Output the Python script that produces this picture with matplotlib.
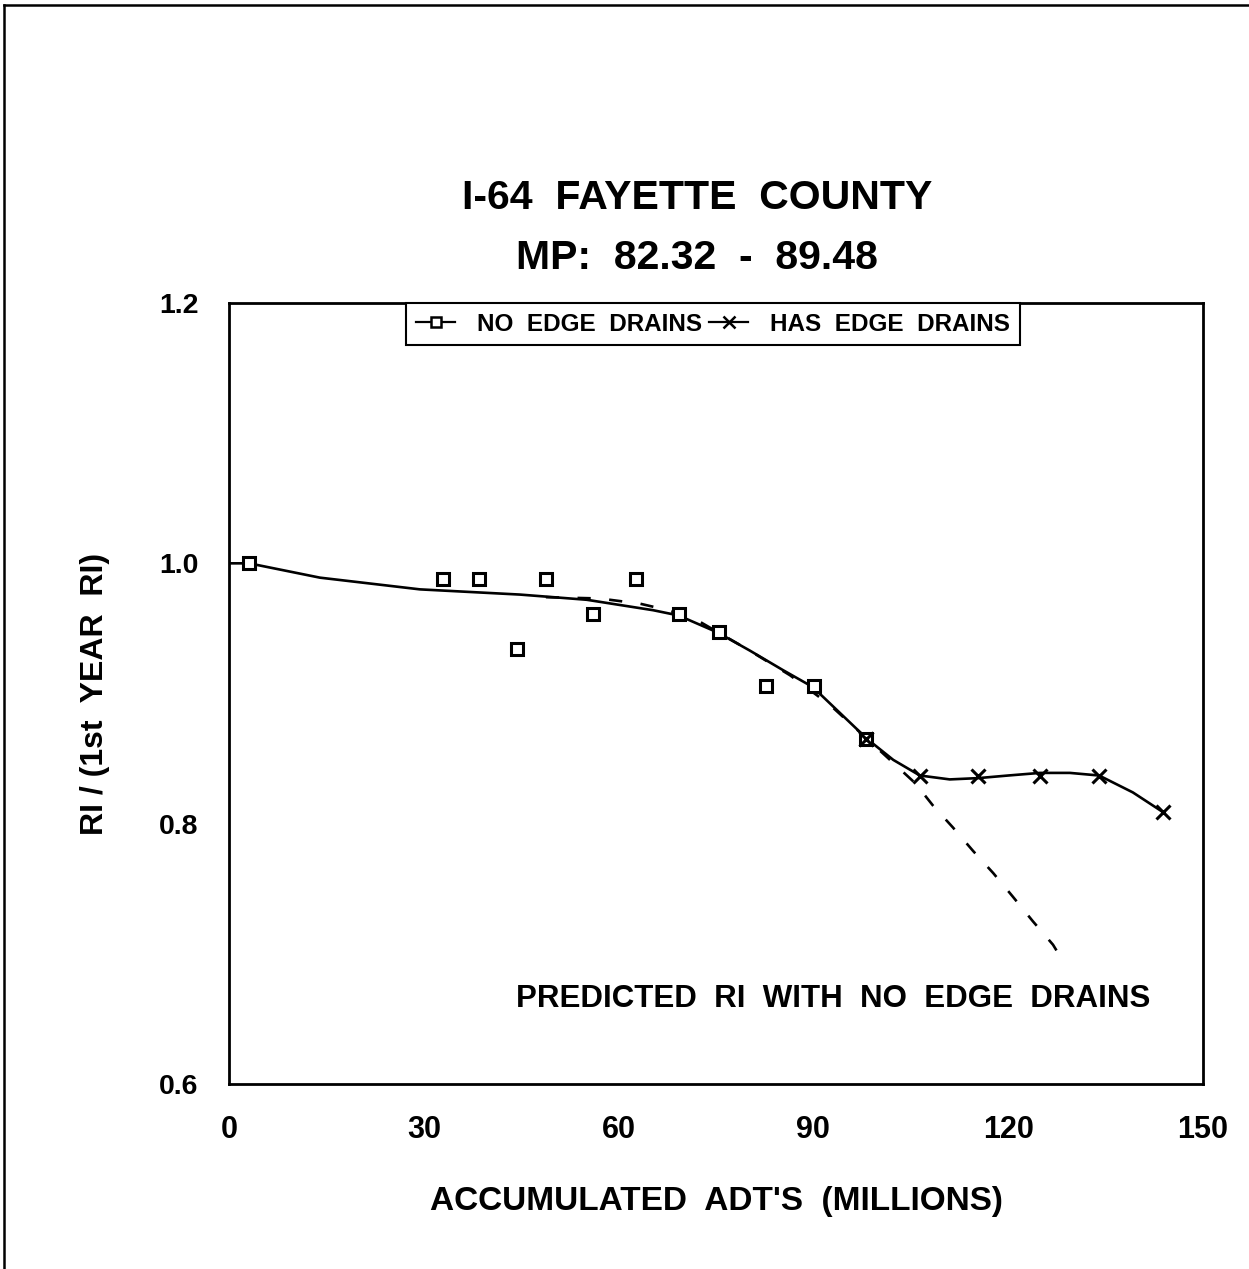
import matplotlib
matplotlib.use("Agg")
import matplotlib.pyplot as plt
from matplotlib.lines import Line2D

# ---- data ----
no_drain_x = [3.1, 33.0, 38.5, 44.4, 48.8, 56.1, 62.7, 69.3, 75.5, 82.7, 90.1, 98.1]
no_drain_y = [1.000, 0.988, 0.988, 0.934, 0.988, 0.961, 0.988, 0.961, 0.947, 0.906, 0.906, 0.865]

has_drain_x = [98.1, 106.4, 115.3, 124.9, 134.0, 143.8]
has_drain_y = [0.865, 0.837, 0.837, 0.837, 0.837, 0.809]

fit_x = [0.0, 3.1, 14.0, 29.4, 44.8, 55.1, 65.3, 69.2, 75.2, 80.2, 85.3, 89.9,
         94.1, 98.3, 102.3, 106.4, 111.0, 115.4, 120.0, 124.9, 129.5, 134.0, 139.2, 143.8]
fit_y = [1.000, 1.000, 0.989, 0.980, 0.976, 0.972, 0.964, 0.960, 0.947, 0.933, 0.918, 0.905,
         0.885, 0.865, 0.849, 0.837, 0.834, 0.835, 0.837, 0.839, 0.839, 0.837, 0.824, 0.809]

pred_x = [48.8, 57.1, 63.3, 67.6, 72.2, 79.5, 86.4, 92.6, 98.3, 101.8, 105.7, 108.4,
          111.5, 114.6, 117.7, 120.7, 123.8, 126.9, 128.0]
pred_y = [0.974, 0.973, 0.969, 0.964, 0.956, 0.935, 0.914, 0.891, 0.865, 0.849, 0.831, 0.814,
          0.797, 0.779, 0.762, 0.744, 0.725, 0.707, 0.698]

x_ticks = [0, 30, 60, 90, 120, 150]
y_ticks = [0.6, 0.8, 1.0, 1.2]

title1 = "I-64  FAYETTE  COUNTY"
title2 = "MP:  82.32  -  89.48"
xlabel = "ACCUMULATED  ADT'S  (MILLIONS)"
ylabel = "RI / (1st  YEAR  RI)"
series_labels = ["NO  EDGE  DRAINS", "HAS  EDGE  DRAINS"]
annotation = "PREDICTED  RI  WITH  NO  EDGE  DRAINS"

plt.rcParams['font.family'] = ['Liberation Sans', 'DejaVu Sans']
plt.rcParams['font.weight'] = 'bold'

fig = plt.figure(figsize=(12.49, 12.69), dpi=100)
ax = fig.add_axes([229/1249, 1-1084/1269, (1203-229)/1249, (1084-303)/1269])

ax.plot(fit_x, fit_y, color='black', lw=1.9, zorder=2)
ax.plot(pred_x, pred_y, color='black', lw=1.9, linestyle=(0, (5, 7)), zorder=2)
ax.plot(no_drain_x, no_drain_y, linestyle='none', marker='s', markersize=8.5,
        markerfacecolor='white', markeredgecolor='black', markeredgewidth=2.2, zorder=3)
ax.plot(has_drain_x, has_drain_y, linestyle='none', marker='x', markersize=10,
        color='black', markeredgewidth=2.2, zorder=3)

h1 = Line2D([], [], color='black', lw=1.6, marker='s', markersize=7,
            markerfacecolor='white', markeredgecolor='black', markeredgewidth=1.8)
h2 = Line2D([], [], color='black', lw=1.6, marker='x', markersize=8,
            markeredgewidth=1.8)
leg = ax.legend([h1, h2], series_labels, ncol=2, loc='upper center',
                bbox_to_anchor=(0.497, 1.0), frameon=True, fancybox=False,
                edgecolor='black', framealpha=1, borderaxespad=0,
                handlelength=1.6, columnspacing=0.3, handletextpad=0.9,
                borderpad=0.4, prop={'weight': 'bold', 'size': 17.5})
leg.get_frame().set_linewidth(1.5)

ax.text(93.0, 0.665, annotation, fontsize=22.5, fontweight='bold',
        ha='center', va='center')

ax.set_xlim(0, 150)
ax.set_ylim(0.6, 1.2)
ax.set_xticks(x_ticks)
ax.set_xticklabels([str(v) for v in x_ticks])
ax.set_yticks(y_ticks)
ax.set_yticklabels([f"{v:.1f}" for v in y_ticks])
ax.tick_params(length=0, labelsize=20.5, pad=22)
ax.tick_params(axis='x', labelsize=22)
for lab in ax.get_xticklabels() + ax.get_yticklabels():
    lab.set_fontweight('bold')
for s in ax.spines.values():
    s.set_linewidth(2.0)

ax.set_xlabel(xlabel, fontsize=24, fontweight='bold', labelpad=30)
ax.set_ylabel(ylabel, fontsize=23, fontweight='bold', labelpad=35)

fig.text(697/1249, 1-198/1269, title1, fontsize=29.5, fontweight='bold', ha='center', va='center')
fig.text(697/1249, 1-258/1269, title2, fontsize=29.5, fontweight='bold', ha='center', va='center')

# page border
fig.add_artist(Line2D([0.003, 1.0], [1-5/1269, 1-5/1269], color='black', lw=1.8, transform=fig.transFigure))
fig.add_artist(Line2D([4/1249, 4/1249], [0, 1-5/1269], color='black', lw=1.8, transform=fig.transFigure))

fig.savefig("out.png", dpi=100, facecolor='white')
